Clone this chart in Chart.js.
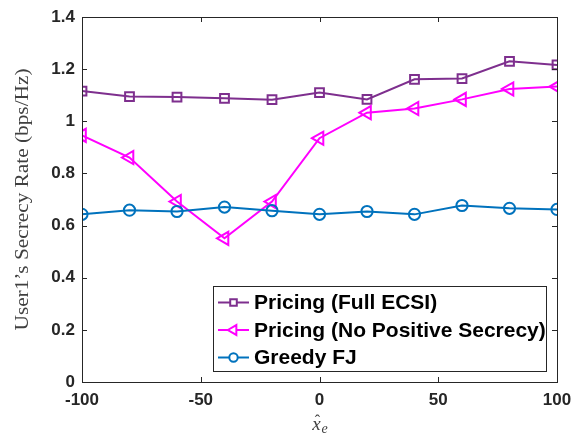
<!DOCTYPE html>
<html>
<head>
<meta charset="utf-8">
<script src="https://cdn.jsdelivr.net/npm/chart.js@4/dist/chart.umd.min.js"></script>
<style>
  html, body { margin: 0; padding: 0; background: #ffffff; }
  #wrap { width: 574px; height: 436px; }
</style>
</head>
<body>
<div id="wrap"><canvas id="c" width="574" height="436"></canvas></div>
<script>
// Eavesdropper position estimate (x axis)
const xPositions = [-100, -80, -60, -40, -20, 0, 20, 40, 60, 80, 100];

// User 1 secrecy rate per scheme (bps/Hz)
const pricingFullEcsi = [1.116, 1.095, 1.093, 1.088, 1.083, 1.110, 1.084, 1.161, 1.164, 1.230, 1.216];
const pricingNoPositive = [0.946, 0.861, 0.692, 0.551, 0.692, 0.935, 1.033, 1.049, 1.084, 1.124, 1.133];
const greedyFJ = [0.643, 0.659, 0.654, 0.671, 0.657, 0.643, 0.654, 0.643, 0.677, 0.666, 0.662];

const seriesNames = ['Pricing (Full ECSI)', 'Pricing (No Positive Secrecy)', 'Greedy FJ'];

// Axis ticks
const xTickValues = [-100, -50, 0, 50, 100];
const xTickLabels = ['-100', '-50', '0', '50', '100'];
const yTickValues = [0, 0.2, 0.4, 0.6, 0.8, 1.0, 1.2, 1.4];
const yTickLabels = ['0', '0.2', '0.4', '0.6', '0.8', '1', '1.2', '1.4'];

const AXIS_COLOR = '#262626';
const TICK_FONT = { family: "'Liberation Sans', Arial, sans-serif", size: 17, weight: 'bold' };

const colors = ['#7E2F8E', '#FF00FF', '#0072BD'];
const markerSpec = [
  { style: 'rect', radius: 6.2, rotation: 0 },
  { style: 'triangle', radius: 7.6, rotation: -90 },
  { style: 'circle', radius: 5.6, rotation: 0 }
];

function toPoints(ys) { return xPositions.map((x, i) => ({ x: x, y: ys[i] })); }

const allSeries = [pricingFullEcsi, pricingNoPositive, greedyFJ];
const datasets = allSeries.map((ys, i) => ({
  label: seriesNames[i],
  data: toPoints(ys),
  borderColor: colors[i],
  backgroundColor: 'rgba(0,0,0,0)',
  borderWidth: 2,
  pointStyle: markerSpec[i].style,
  pointRadius: markerSpec[i].radius,
  pointRotation: markerSpec[i].rotation,
  pointBorderWidth: 2,
  pointBorderColor: colors[i],
  pointBackgroundColor: 'rgba(0,0,0,0)',
  tension: 0,
  order: 2 - i
}));

// Box frame, inward ticks on all four sides, axis titles and the legend box
const framePlugin = {
  id: 'frame',
  afterDraw(chart) {
    const ctx = chart.ctx;
    const a = chart.chartArea;
    const xs = chart.scales.x, ys = chart.scales.y;
    ctx.save();
    ctx.strokeStyle = AXIS_COLOR;
    ctx.lineWidth = 1;
    ctx.strokeRect(Math.round(a.left) + 0.5, Math.round(a.top) + 0.5,
                   Math.round(a.right - a.left), Math.round(a.bottom - a.top));
    const tl = 5;
    ctx.beginPath();
    xTickValues.forEach(v => {
      const px = Math.round(xs.getPixelForValue(v)) + 0.5;
      ctx.moveTo(px, a.bottom); ctx.lineTo(px, a.bottom - tl);
      ctx.moveTo(px, a.top); ctx.lineTo(px, a.top + tl);
    });
    yTickValues.forEach(v => {
      const py = Math.round(ys.getPixelForValue(v)) + 0.5;
      ctx.moveTo(a.left, py); ctx.lineTo(a.left + tl, py);
      ctx.moveTo(a.right, py); ctx.lineTo(a.right - tl, py);
    });
    ctx.stroke();

    // y-axis title, set in a wide serif
    const yTitle = 'User1\u2019s Secrecy Rate (bps/Hz)';
    ctx.fillStyle = '#404040';
    ctx.font = "18px 'Liberation Serif', 'DejaVu Serif', serif";
    ctx.textAlign = 'center';
    ctx.textBaseline = 'middle';
    const tw = ctx.measureText(yTitle).width;
    ctx.translate(23, (a.top + a.bottom) / 2);
    ctx.rotate(-Math.PI / 2);
    ctx.scale(262 / tw, 1);
    ctx.fillText(yTitle, 0, 0);
    ctx.setTransform(1, 0, 0, 1, 0, 0);

    // x-axis title: x-hat with subscript e
    const cx = (a.left + a.right) / 2;
    const by = 430;
    ctx.fillStyle = '#404040';
    ctx.textAlign = 'left';
    ctx.textBaseline = 'alphabetic';
    ctx.font = "italic 19px 'Liberation Serif', 'DejaVu Serif', serif";
    const xw = ctx.measureText('x').width;
    ctx.font = "italic 14px 'Liberation Serif', 'DejaVu Serif', serif";
    const ew = ctx.measureText('e').width;
    const startX = cx - (xw + ew) / 2;
    ctx.font = "italic 19px 'Liberation Serif', 'DejaVu Serif', serif";
    ctx.fillText('x', startX, by);
    ctx.font = "16px 'Liberation Serif', 'DejaVu Serif', serif";
    ctx.textAlign = 'center';
    ctx.fillText('\u02C6', startX + xw / 2 + 1, by - 4);
    ctx.textAlign = 'left';
    ctx.font = "italic 14px 'Liberation Serif', 'DejaVu Serif', serif";
    ctx.fillText('e', startX + xw + 1, by + 3);

    // legend
    const lx = a.right - 344, ly = a.bottom - 96, lw = 333, lh = 85;
    ctx.fillStyle = '#ffffff';
    ctx.fillRect(lx, ly, lw, lh);
    ctx.strokeStyle = AXIS_COLOR;
    ctx.lineWidth = 1;
    ctx.strokeRect(Math.round(lx) + 0.5, Math.round(ly) + 0.5, lw, lh);
    const rowH = 27.5;
    ctx.textBaseline = 'middle';
    seriesNames.forEach((name, i) => {
      const ry = ly + 16.5 + i * rowH;
      const x0 = lx + 5, x1 = lx + 36;
      ctx.strokeStyle = colors[i];
      ctx.lineWidth = 2;
      ctx.beginPath();
      ctx.moveTo(x0, ry); ctx.lineTo(x1, ry);
      ctx.stroke();
      ctx.fillStyle = '#ffffff';
      Chart.helpers.drawPoint(ctx, {
        pointStyle: markerSpec[i].style,
        radius: markerSpec[i].radius * 0.75,
        rotation: markerSpec[i].rotation,
        borderWidth: 1.5
      }, (x0 + x1) / 2, ry);
      ctx.fillStyle = '#000000';
      ctx.font = "bold 21px 'Liberation Sans', Arial, sans-serif";
      ctx.fillText(name, lx + 41, ry + 1);
    });
    ctx.restore();
  }
};

new Chart(document.getElementById('c'), {
  type: 'line',
  data: { datasets: datasets },
  options: {
    responsive: false,
    animation: false,
    layout: { padding: { left: 0, right: 17, top: 17, bottom: 0 } },
    plugins: { legend: { display: false }, tooltip: { enabled: false } },
    scales: {
      x: {
        type: 'linear',
        min: -100, max: 100,
        afterBuildTicks(scale) { scale.ticks = xTickValues.map(v => ({ value: v })); },
        afterFit(scale) {
          scale.height = 54;
          scale.paddingLeft = 0;
          scale.paddingRight = 0;
        },
        grid: { display: false, drawTicks: false },
        border: { display: false },
        ticks: {
          color: AXIS_COLOR,
          font: TICK_FONT,
          padding: 8,
          maxRotation: 0,
          callback: (v) => xTickLabels[xTickValues.indexOf(v)]
        }
      },
      y: {
        type: 'linear',
        min: 0, max: 1.4,
        afterBuildTicks(scale) { scale.ticks = yTickValues.map(v => ({ value: v })); },
        afterFit(scale) {
          scale.width = 82;
          scale.paddingTop = 0;
          scale.paddingBottom = 0;
        },
        grid: { display: false, drawTicks: false },
        border: { display: false },
        ticks: {
          color: AXIS_COLOR,
          font: TICK_FONT,
          padding: 7,
          callback: (v) => {
            const k = yTickValues.findIndex(t => Math.abs(t - v) < 1e-9);
            return k >= 0 ? yTickLabels[k] : '';
          }
        }
      }
    }
  },
  plugins: [framePlugin]
});
</script>
</body>
</html>
